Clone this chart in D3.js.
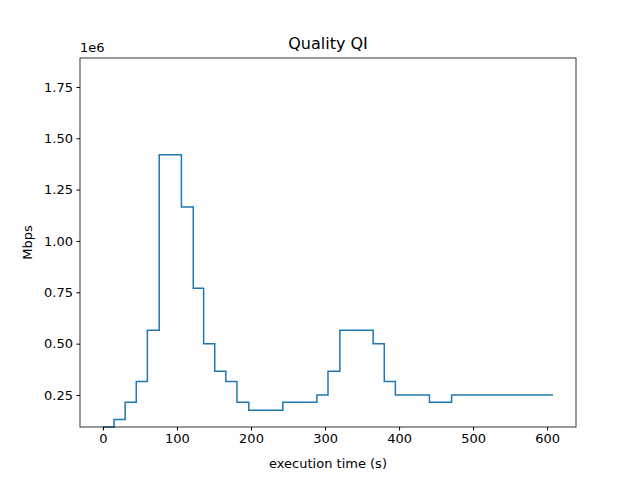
<!DOCTYPE html>
<html><head><meta charset="utf-8">
<script src="https://cdn.jsdelivr.net/npm/d3@7"></script>
<style>body{margin:0;background:#fff}text{font-family:"DejaVu Sans",sans-serif}</style>
</head><body><div id="container"></div>
<script>
// step start times (s) and the rate held from that time on (Mbps, x1e6)
const times = [0, 15, 30, 45, 60, 76, 106, 122, 136, 151, 166, 181, 197, 243, 289, 304, 320, 365, 380, 395, 441, 471, 608];
const rates = [0.094, 0.13, 0.215, 0.315, 0.565, 1.42, 1.165, 0.77, 0.5, 0.365, 0.315, 0.215, 0.175, 0.215, 0.25, 0.365, 0.565, 0.5, 0.315, 0.25, 0.215, 0.25, 0.25];
const xTicks = [0, 100, 200, 300, 400, 500, 600];
const yTicks = [0.25, 0.5, 0.75, 1.0, 1.25, 1.5, 1.75];

const width = 640, height = 480;
const margin = {top: 58, right: 64, bottom: 53, left: 80};

const svg = d3.select('#container').append('svg')
    .attr('width', width).attr('height', height);

const x = d3.scaleLinear().domain([-31, 639]).range([margin.left, width - margin.right]);
const y = d3.scaleLinear().domain([0.094, 1.891]).range([height - margin.bottom, margin.top]);

const data = times.map((t, i) => ({t: t, v: rates[i]}));

svg.append('path')
    .datum(data)
    .attr('fill', 'none')
    .attr('stroke', '#1f77b4')
    .attr('stroke-width', 1.5)
    .attr('d', d3.line().x(d => x(d.t)).y(d => y(d.v)).curve(d3.curveStepAfter));

const xAxis = svg.append('g')
    .attr('transform', 'translate(0,' + (height - margin.bottom) + ')')
    .call(d3.axisBottom(x).tickValues(xTicks).tickSize(3.5).tickPadding(3.5).tickFormat(d3.format('d')));
const yAxis = svg.append('g')
    .attr('transform', 'translate(' + margin.left + ',0)')
    .call(d3.axisLeft(y).tickValues(yTicks).tickSize(3.5).tickPadding(3.5).tickFormat(d3.format('.2f')));
[xAxis, yAxis].forEach(a => {
    a.selectAll('text').style('font-size', '13px').attr('fill', '#000');
    a.select('.domain').remove();
});

svg.append('rect')
    .attr('x', margin.left).attr('y', margin.top)
    .attr('width', width - margin.left - margin.right)
    .attr('height', height - margin.top - margin.bottom)
    .attr('fill', 'none').attr('stroke', '#000').attr('stroke-width', 0.8);

svg.append('text').text('Quality QI')
    .attr('x', (margin.left + width - margin.right) / 2).attr('y', 49)
    .attr('text-anchor', 'middle').style('font-size', '16px');
svg.append('text').text('1e6')
    .attr('x', margin.left).attr('y', 52).style('font-size', '13px');
svg.append('text').text('execution time (s)')
    .attr('x', (margin.left + width - margin.right) / 2).attr('y', 468)
    .attr('text-anchor', 'middle').style('font-size', '13px');
svg.append('text').text('Mbps')
    .attr('transform', 'translate(32,' + ((margin.top + height - margin.bottom) / 2) + ') rotate(-90)')
    .attr('text-anchor', 'middle').style('font-size', '13px');
</script></body></html>
